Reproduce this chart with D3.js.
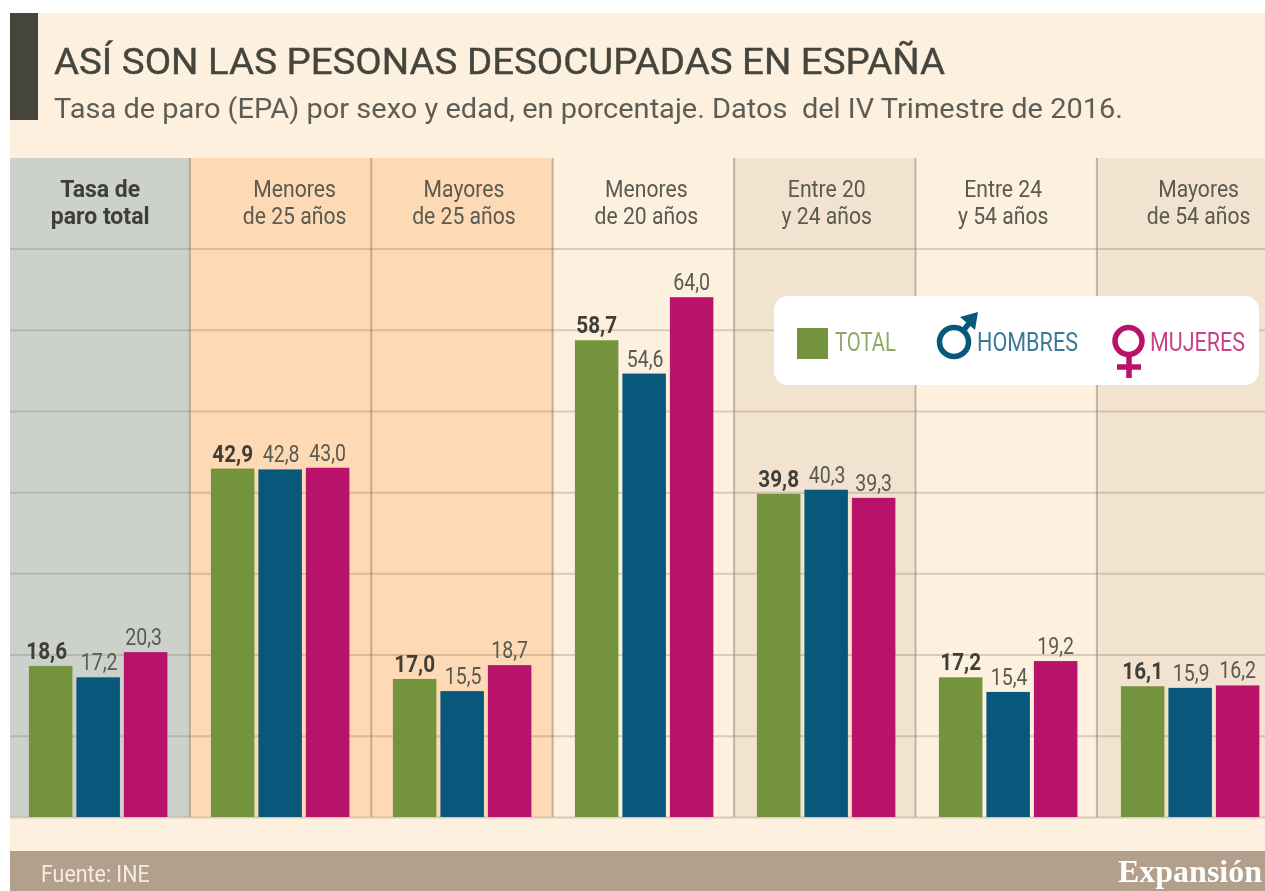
<!DOCTYPE html>
<html><head><meta charset="utf-8">
<style>html,body{margin:0;padding:0;background:#fff}svg{display:block;filter:blur(0.45px)}</style>
<script src="https://cdn.jsdelivr.net/npm/d3@7"></script></head><body>
<svg id="c" width="1265" height="891"></svg>
<script>
const categories = ["Tasa de paro total","Menores de 25 años","Mayores de 25 años","Menores de 20 años","Entre 20 y 24 años","Entre 24 y 54 años","Mayores de 54 años"];
const headerLine1 = ["Tasa de","Menores","Mayores","Menores","Entre 20","Entre 24","Mayores"];
const headerLine2 = ["paro total","de 25 años","de 25 años","de 20 años","y 24 años","y 54 años","de 54 años"];
const seriesNames = ["TOTAL","HOMBRES","MUJERES"];
const total   = [18.6,42.9,17.0,58.7,39.8,17.2,16.1];
const hombres = [17.2,42.8,15.5,54.6,40.3,15.4,15.9];
const mujeres = [20.3,43.0,18.7,64.0,39.3,19.2,16.2];
const gridTicks = [0,10,20,30,40,50,60,70];
const title = "ASÍ SON LAS PESONAS DESOCUPADAS EN ESPAÑA";
const subtitle = "Tasa de paro (EPA) por sexo y edad, en porcentaje. Datos  del IV Trimestre de 2016.";
const source = "Fuente: INE";
const brand = "Expansión";

const colors = {TOTAL:"#73933c",HOMBRES:"#07587a",MUJERES:"#b9126a"};
const colBg = ["#cdd1cb","#fed9b5","#fed9b5","#fef0df","#f2e2d0","#fef0df","#f2e2d0"];
const headerDx = [1,14,2,3,2,-3,11];
const narrow = "Roboto,sans-serif";
const ink = "#5a5a50";

const svg = d3.select("#c");
const fmt = d3.formatLocale({decimal:",",thousands:".",grouping:[3],currency:["","€"]}).format(".1f");
// the source type is condensed: squeeze a text to a share of its natural width
function squeeze(sel,k){
  sel.each(function(){
    this.setAttribute("textLength",this.getComputedTextLength()*k);
    this.setAttribute("lengthAdjust","spacingAndGlyphs");
  });
  return sel;
}

const y = d3.scaleLinear().domain([0,70]).range([817,248.5]);
const xCol = d3.scaleBand().domain(categories).range([8.5,8.5+7*181.4]);
const xGroup = d3.scaleBand().domain(categories).range([28.9,28.9+7*182]);
const xBar = d3.scaleBand().domain(seriesNames).range([0,138.5]).paddingInner(0.084);

svg.append("rect").attr("x",10).attr("y",13).attr("width",1255).attr("height",878).attr("fill","#fef0df");
svg.append("rect").attr("x",10).attr("y",13).attr("width",28).attr("height",107).attr("fill","#45453d");

svg.append("text").attr("x",54).attr("y",74).text(title)
  .attr("font-family","Roboto,sans-serif").attr("font-size",37).attr("font-weight",400)
  .attr("stroke","#45453d").attr("stroke-width",0.4)
  .attr("fill","#45453d").attr("textLength",891).attr("lengthAdjust","spacingAndGlyphs");
svg.append("text").attr("x",54).attr("y",118).text(subtitle).style("white-space","pre")
  .attr("font-family","Roboto,sans-serif").attr("font-size",27).attr("fill","#5d5d55")
  .attr("textLength",1069).attr("lengthAdjust","spacingAndGlyphs");

const colClip = d => Math.max(xCol(d),10);
svg.append("g").selectAll("rect").data(categories).join("rect")
  .attr("x",colClip).attr("y",158)
  .attr("width",d=>xCol(d)+xCol.bandwidth()-colClip(d)).attr("height",659)
  .attr("fill",(d,i)=>colBg[i]);

const gridG = svg.append("g").attr("transform","translate(1265,0)")
  .call(d3.axisLeft(y).tickValues(gridTicks).tickSize(1255).tickFormat(""));
gridG.select(".domain").remove();
gridG.selectAll("line").attr("stroke","#8c7b68").attr("stroke-opacity",0.32).attr("stroke-width",2);

svg.append("g").selectAll("line").data(categories.slice(1)).join("line")
  .attr("x1",d=>xCol(d)).attr("x2",d=>xCol(d)).attr("y1",158).attr("y2",817)
  .attr("stroke","#8c7b68").attr("stroke-opacity",0.5).attr("stroke-width",2);

const hdr = svg.append("g").attr("font-family",narrow).attr("font-size",23).attr("text-anchor","middle");
categories.forEach((c,i)=>{
  const cx = xCol(c)+xCol.bandwidth()/2+headerDx[i];
  [headerLine1[i],headerLine2[i]].forEach((t,j)=>{
    const el = hdr.append("text").attr("x",cx).attr("y",197+j*27).text(t)
      .attr("fill",i===0?"#3f3f38":ink).attr("font-weight",i===0?"700":"400");
    squeeze(el,i===0?1:0.92);
  });
});

const seriesValues = [total,hombres,mujeres];
seriesNames.forEach((s,k)=>{
  const rows = categories.map((c,i)=>({c,i,v:seriesValues[k][i]}));
  svg.append("g").selectAll("rect").data(rows).join("rect")
    .attr("x",d=>xGroup(d.c)+xBar(s)).attr("width",xBar.bandwidth())
    .attr("y",d=>y(d.v)).attr("height",d=>y(0)-y(d.v)).attr("fill",colors[s]);
  const labels = svg.append("g").selectAll("text").data(rows).join("text")
    .attr("x",d=>xGroup(d.c)+xBar(s)+xBar.bandwidth()/2-(d.i===0?(k===0?4:k===2?2:0):0)+(k===1?1:0))
    .attr("y",d=>y(d.v)-7).attr("text-anchor","middle")
    .attr("font-family",narrow).attr("font-size",23)
    .attr("font-weight",k===0?700:400).attr("fill",k===0?"#3f3f38":ink)
    .text(d=>fmt(d.v));
  squeeze(labels,k===0?0.9:0.85);
});

svg.append("rect").attr("x",10).attr("y",851).attr("width",1255).attr("height",40).attr("fill","#b3a08c");
squeeze(svg.append("text").attr("x",41).attr("y",882).text(source).attr("font-family",narrow).attr("font-size",23).attr("fill","#f4ece2"),0.93);
svg.append("text").attr("x",1262).attr("y",882).attr("text-anchor","end").text(brand)
  .attr("font-family","'Liberation Serif',serif").attr("font-weight",700).attr("font-size",32).attr("fill","#fff")
  .attr("textLength",144).attr("lengthAdjust","spacingAndGlyphs");

const lg = svg.append("g");
lg.append("rect").attr("x",774).attr("y",296).attr("width",485).attr("height",89).attr("rx",14).attr("fill","#fff");
lg.append("rect").attr("x",797).attr("y",328).attr("width",31).attr("height",31).attr("fill",colors.TOTAL);
const legendText = [[835,351,61,"TOTAL"],[977,351,101,"HOMBRES"],[1150,351,95,"MUJERES"]];
legendText.forEach(([x,yy,w,t])=>{
  lg.append("text").attr("x",x).attr("y",yy).text(t).attr("font-family",narrow).attr("font-size",25)
    .attr("fill",colors[t]).attr("fill-opacity",0.8).attr("textLength",w).attr("lengthAdjust","spacingAndGlyphs");
});
const m = lg.append("g").attr("fill","none").attr("stroke",colors.HOMBRES).attr("stroke-width",5.5);
m.append("circle").attr("cx",954).attr("cy",342).attr("r",14.5);
m.append("path").attr("d","M963,331L974,317");
lg.append("path").attr("d","M960,317L978,312L975,330Z").attr("fill",colors.HOMBRES);
const f = lg.append("g").attr("fill","none").attr("stroke",colors.MUJERES).attr("stroke-width",5.5);
f.append("circle").attr("cx",1128.5).attr("cy",341).attr("r",13.5);
f.append("path").attr("d","M1129,356V378M1117,367H1141");
</script></body></html>
